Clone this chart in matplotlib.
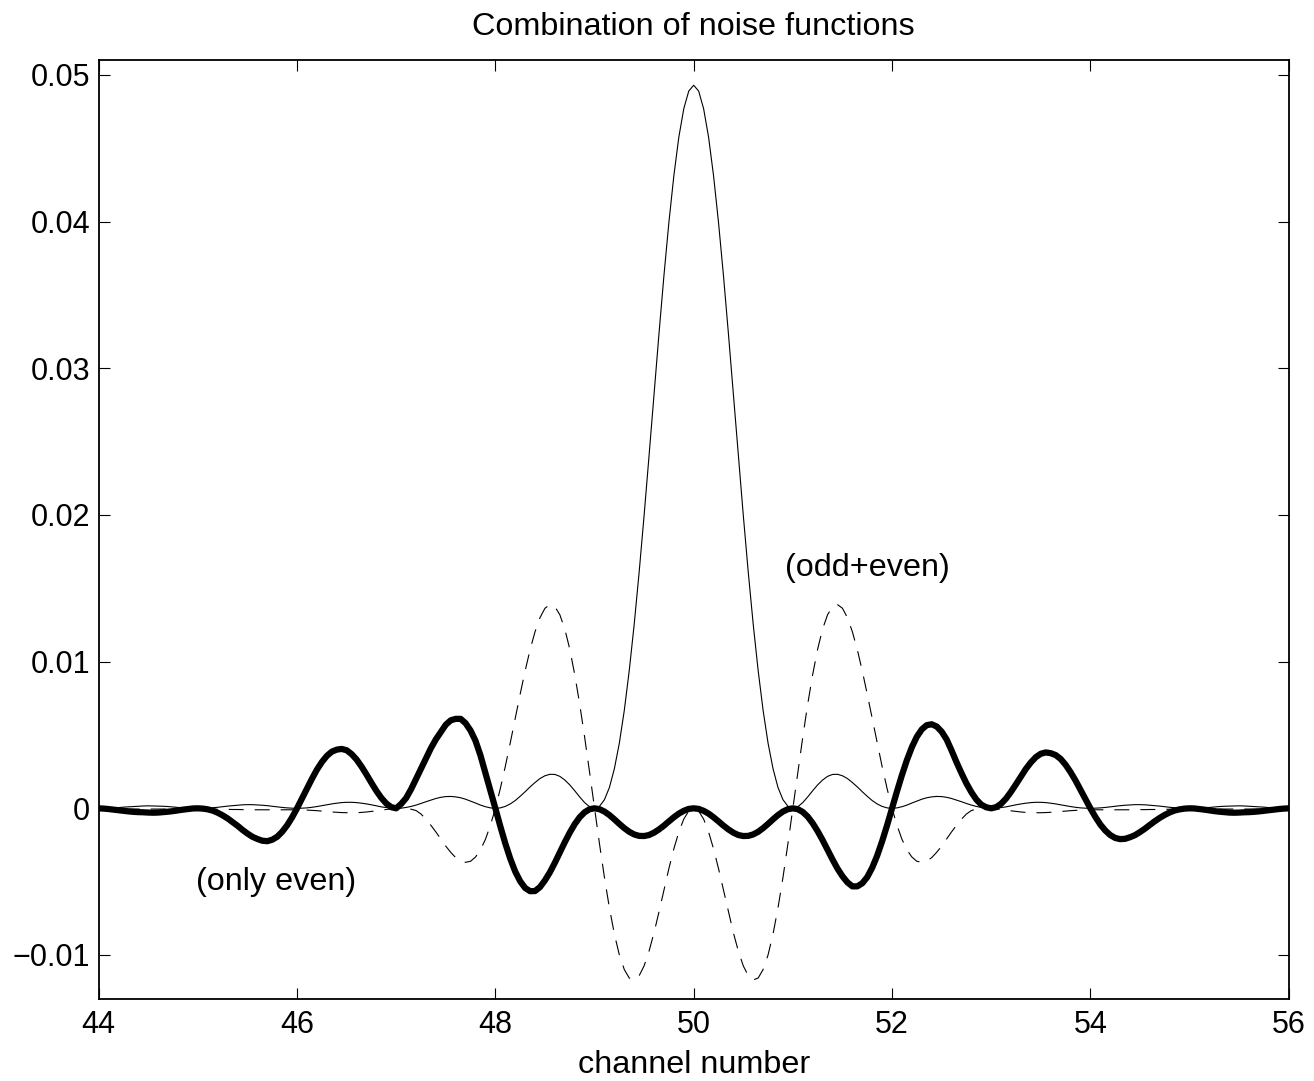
import numpy as np
import matplotlib
matplotlib.use("Agg")
import matplotlib.pyplot as plt

plt.rcParams['font.family'] = ['Liberation Sans', 'DejaVu Sans']

# channel grid 44 .. 56, step 0.05
channel = np.linspace(44, 56, 241)

# thin solid curve
solid = [
    0, 0, 0.00001, 0.00003, 0.00005, 0.00008, 0.00010, 0.00012, 0.00014, 0.00016,
    0.00017, 0.00016, 0.00015, 0.00014, 0.00012, 0.00009, 0.00006, 0.00004, 0.00002, 0,
    0, 0, 0.00002, 0.00004, 0.00007, 0.00011, 0.00015, 0.00018, 0.00021, 0.00024,
    0.00025, 0.00025, 0.00023, 0.00021, 0.00018, 0.00014, 0.00010, 0.00006, 0.00003, 0.00001,
    0, 0.00001, 0.00003, 0.00007, 0.00012, 0.00018, 0.00024, 0.00030, 0.00035, 0.00039,
    0.00041, 0.00041, 0.00039, 0.00035, 0.00030, 0.00024, 0.00017, 0.00010, 0.00005, 0.00001,
    0, 0.00001, 0.00006, 0.00013, 0.00022, 0.00033, 0.00045, 0.00056, 0.00067, 0.00075,
    0.00080, 0.00081, 0.00078, 0.00072, 0.00062, 0.00049, 0.00036, 0.00022, 0.00011, 0.00003,
    0, 0.00003, 0.00013, 0.00030, 0.00053, 0.00082, 0.00113, 0.00146, 0.00176, 0.00203,
    0.00222, 0.00232, 0.00231, 0.00218, 0.00193, 0.00160, 0.00120, 0.00078, 0.00039, 0.00011,
    0, 0.00014, 0.00059, 0.00142, 0.00270, 0.00444, 0.00667, 0.00939, 0.01255, 0.01611,
    0.01998, 0.02406, 0.02824, 0.03237, 0.03633, 0.03996, 0.04314, 0.04576, 0.04770, 0.04890,
    0.04930,
    0.04890, 0.04770, 0.04576, 0.04314, 0.03996, 0.03633, 0.03237, 0.02824, 0.02406, 0.01998,
    0.01611, 0.01255, 0.00939, 0.00667, 0.00444, 0.00270, 0.00142, 0.00059, 0.00014, 0,
    0.00011, 0.00039, 0.00078, 0.00120, 0.00160, 0.00193, 0.00218, 0.00231, 0.00232, 0.00222,
    0.00203, 0.00176, 0.00146, 0.00113, 0.00082, 0.00053, 0.00030, 0.00013, 0.00003, 0,
    0.00003, 0.00011, 0.00022, 0.00036, 0.00049, 0.00062, 0.00072, 0.00078, 0.00081, 0.00080,
    0.00075, 0.00067, 0.00056, 0.00045, 0.00033, 0.00022, 0.00013, 0.00006, 0.00001, 0,
    0.00001, 0.00005, 0.00010, 0.00017, 0.00024, 0.00030, 0.00035, 0.00039, 0.00041, 0.00041,
    0.00039, 0.00035, 0.00030, 0.00024, 0.00018, 0.00012, 0.00007, 0.00003, 0.00001, 0,
    0.00001, 0.00003, 0.00006, 0.00010, 0.00014, 0.00018, 0.00021, 0.00023, 0.00025, 0.00025,
    0.00024, 0.00021, 0.00018, 0.00015, 0.00011, 0.00007, 0.00004, 0.00002, 0, 0,
    0, 0.00002, 0.00004, 0.00006, 0.00009, 0.00012, 0.00014, 0.00015, 0.00016, 0.00017,
    0.00016, 0.00014, 0.00012, 0.00010, 0.00008, 0.00005, 0.00003, 0.00001, 0, 0,
]

# dashed curve (odd+even)
dashed = [
    -0.00004, -0.00005, -0.00005, -0.00005, -0.00005, -0.00005, -0.00005, -0.00005, -0.00005, -0.00005,
    -0.00005, -0.00005, -0.00005, -0.00005, -0.00005, -0.00005, -0.00005, -0.00005, -0.00005, -0.00005,
    -0.00005, -0.00005, -0.00005, -0.00006, -0.00006, -0.00007, -0.00007, -0.00008, -0.00008, -0.00009,
    -0.00009, -0.00010, -0.00010, -0.00010, -0.00010, -0.00010, -0.00010, -0.00010, -0.00010, -0.00010,
    -0.00010, -0.00011, -0.00012, -0.00014, -0.00016, -0.00019, -0.00022, -0.00025, -0.00027, -0.00029,
    -0.00030, -0.00030, -0.00030, -0.00028, -0.00025, -0.00021, -0.00017, -0.00012, -0.00008, -0.00004,
    0, -0.00001, -0.00002, -0.00006, -0.00015, -0.00039, -0.00074, -0.00116, -0.00161, -0.00209,
    -0.00258, -0.00300, -0.00336, -0.00360, -0.00368, -0.00361, -0.00332, -0.00283, -0.00211, -0.00116,
    0, 0.00135, 0.00285, 0.00446, 0.00613, 0.00778, 0.00937, 0.01081, 0.01204, 0.01300,
    0.01364, 0.01389, 0.01375, 0.01320, 0.01223, 0.01086, 0.00913, 0.00712, 0.00486, 0.00246,
    0, -0.00242, -0.00472, -0.00679, -0.00857, -0.00999, -0.01099, -0.01157, -0.01170, -0.01141,
    -0.01074, -0.00973, -0.00848, -0.00706, -0.00557, -0.00410, -0.00276, -0.00161, -0.00073, -0.00019,
    0,
    -0.00019, -0.00073, -0.00161, -0.00276, -0.00410, -0.00557, -0.00706, -0.00848, -0.00973, -0.01074,
    -0.01141, -0.01170, -0.01157, -0.01099, -0.00999, -0.00857, -0.00679, -0.00472, -0.00242, 0,
    0.00246, 0.00486, 0.00712, 0.00913, 0.01086, 0.01223, 0.01320, 0.01375, 0.01389, 0.01364,
    0.01300, 0.01204, 0.01081, 0.00937, 0.00778, 0.00613, 0.00446, 0.00285, 0.00135, 0,
    -0.00116, -0.00211, -0.00283, -0.00332, -0.00361, -0.00368, -0.00360, -0.00336, -0.00300, -0.00258,
    -0.00209, -0.00161, -0.00116, -0.00074, -0.00039, -0.00015, -0.00006, -0.00002, -0.00001, 0,
    -0.00004, -0.00008, -0.00012, -0.00017, -0.00021, -0.00025, -0.00028, -0.00030, -0.00030, -0.00030,
    -0.00029, -0.00027, -0.00025, -0.00022, -0.00019, -0.00016, -0.00014, -0.00012, -0.00011, -0.00010,
    -0.00010, -0.00010, -0.00010, -0.00010, -0.00010, -0.00010, -0.00010, -0.00010, -0.00010, -0.00009,
    -0.00009, -0.00008, -0.00008, -0.00007, -0.00007, -0.00006, -0.00006, -0.00005, -0.00005, -0.00005,
    -0.00005, -0.00005, -0.00005, -0.00005, -0.00005, -0.00005, -0.00005, -0.00005, -0.00005, -0.00005,
    -0.00005, -0.00005, -0.00005, -0.00005, -0.00005, -0.00005, -0.00005, -0.00005, -0.00005, -0.00004,
]

# thick dotted curve (only even)
thick = [
    0, -0.00002, -0.00005, -0.00009, -0.00013, -0.00017, -0.00021, -0.00024, -0.00026, -0.00027,
    -0.00029, -0.00030, -0.00029, -0.00026, -0.00023, -0.00019, -0.00014, -0.00009, -0.00005, -0.00001,
    0, -0.00002, -0.00007, -0.00016, -0.00030, -0.00048, -0.00069, -0.00094, -0.00119, -0.00147,
    -0.00172, -0.00194, -0.00209, -0.00221, -0.00224, -0.00214, -0.00194, -0.00160, -0.00116, -0.00062,
    0, 0.00067, 0.00135, 0.00201, 0.00263, 0.00315, 0.00357, 0.00386, 0.00400, 0.00405,
    0.00396, 0.00370, 0.00333, 0.00285, 0.00231, 0.00174, 0.00119, 0.00071, 0.00033, 0.00008,
    0, 0.00030, 0.00070, 0.00130, 0.00200, 0.00270, 0.00340, 0.00410, 0.00470, 0.00520,
    0.00570, 0.00600, 0.00610, 0.00610, 0.00580, 0.00530, 0.00460, 0.00360, 0.00240, 0.00120,
    0, -0.00123, -0.00239, -0.00343, -0.00431, -0.00497, -0.00543, -0.00565, -0.00564, -0.00537,
    -0.00491, -0.00436, -0.00371, -0.00301, -0.00231, -0.00166, -0.00108, -0.00061, -0.00027, -0.00006,
    0, -0.00006, -0.00022, -0.00046, -0.00075, -0.00106, -0.00135, -0.00160, -0.00178, -0.00188,
    -0.00189, -0.00182, -0.00166, -0.00144, -0.00118, -0.00089, -0.00061, -0.00036, -0.00017, -0.00004,
    0,
    -0.00004, -0.00017, -0.00036, -0.00061, -0.00089, -0.00118, -0.00144, -0.00166, -0.00182, -0.00189,
    -0.00188, -0.00178, -0.00160, -0.00135, -0.00106, -0.00075, -0.00046, -0.00022, -0.00006, 0,
    -0.00006, -0.00025, -0.00057, -0.00102, -0.00156, -0.00217, -0.00283, -0.00349, -0.00411, -0.00463,
    -0.00505, -0.00532, -0.00532, -0.00511, -0.00469, -0.00405, -0.00323, -0.00225, -0.00116, 0,
    0.00116, 0.00227, 0.00329, 0.00417, 0.00488, 0.00538, 0.00567, 0.00573, 0.00558, 0.00523,
    0.00470, 0.00395, 0.00315, 0.00240, 0.00170, 0.00110, 0.00060, 0.00025, 0.00007, 0,
    0.00008, 0.00031, 0.00067, 0.00113, 0.00164, 0.00217, 0.00269, 0.00313, 0.00349, 0.00372,
    0.00381, 0.00376, 0.00363, 0.00337, 0.00297, 0.00247, 0.00190, 0.00127, 0.00063, 0,
    -0.00058, -0.00110, -0.00151, -0.00182, -0.00202, -0.00210, -0.00208, -0.00197, -0.00183, -0.00162,
    -0.00139, -0.00113, -0.00088, -0.00065, -0.00045, -0.00028, -0.00015, -0.00007, -0.00002, 0,
    -0.00001, -0.00005, -0.00009, -0.00014, -0.00019, -0.00023, -0.00026, -0.00029, -0.00030, -0.00029,
    -0.00027, -0.00026, -0.00024, -0.00021, -0.00017, -0.00013, -0.00009, -0.00005, -0.00002, 0,
]

xticks = [44, 46, 48, 50, 52, 54, 56]
yticks = [-0.01, 0, 0.01, 0.02, 0.03, 0.04, 0.05]
ytick_labels = ['\u22120.01', '0', '0.01', '0.02', '0.03', '0.04', '0.05']

fig = plt.figure(figsize=(13.14, 10.81), dpi=100)
ax = fig.add_axes([98.7/1314, 1 - 998.7/1081, 1190/1314, 938.7/1081])

ax.plot(channel, solid, color='black', lw=0.8)
ax.plot(channel, dashed, color='black', lw=0.8, linestyle=(0, (13.5, 9.9)))
ax.plot(channel, thick, color='black', lw=4.5, solid_capstyle='round', solid_joinstyle='round')

ax.set_xlim(44, 56)
ax.set_ylim(-0.01298, 0.05102)
ax.set_xticks(xticks)
ax.set_xticklabels([str(t) for t in xticks])
ax.set_yticks(yticks)
ax.set_yticklabels(ytick_labels)
ax.tick_params(direction='in', length=8, width=0.8, top=True, right=True, labelsize=22)
ax.tick_params(axis='x', pad=8)
ax.tick_params(axis='y', pad=6)
for sp in ax.spines.values():
    sp.set_linewidth(1.3)

ax.set_title('Combination of noise functions', fontsize=23.3, pad=18)
ax.set_xlabel('channel number', fontsize=23.3, labelpad=7)

ax.text(50.92, 0.01638, '(odd+even)', fontsize=23.3, va='center', ha='left')
ax.text(44.98, -0.00502, '(only even)', fontsize=23.3, va='center', ha='left')

plt.savefig('out.png', dpi=100)
